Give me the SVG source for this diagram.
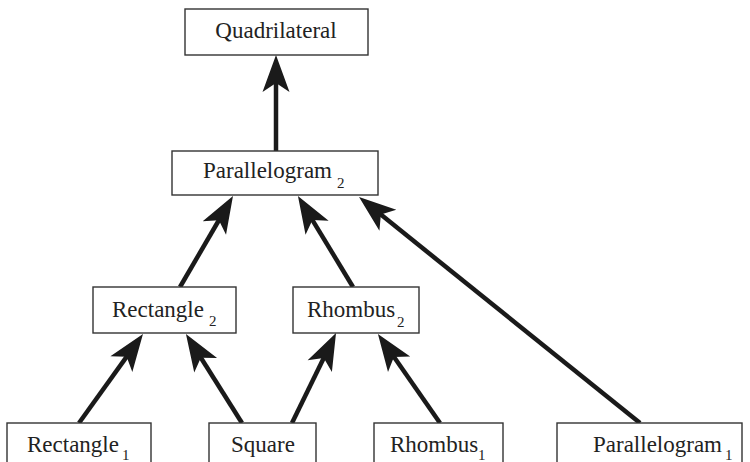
<svg xmlns="http://www.w3.org/2000/svg" width="750" height="462" viewBox="0 0 750 462">
<style>
.box{fill:#fff;stroke:#333;stroke-width:1.4}
.c{stroke:#1a1a1a;stroke-width:4.5;fill:none;marker-end:url(#ah)}
</style>
<defs>
<marker id="ah" markerUnits="userSpaceOnUse" markerWidth="44" markerHeight="40" viewBox="-14 -20 44 40" refX="0" refY="0" orient="auto" overflow="visible">
<path d="M26,0 L-11,-13.5 L-2,0 L-11,13.5 Z" fill="#1a1a1a"/>
</marker>
</defs>
<rect width="750" height="462" fill="#fff"/>
<g id="connectors">
<line class="c" x1="276" y1="151" x2="276" y2="81"/>
<line class="c" x1="180" y1="287" x2="219.9" y2="218.5"/>
<line class="c" x1="353" y1="287" x2="311.4" y2="218.3"/>
<line class="c" x1="640" y1="423" x2="379.3" y2="213.3"/>
<line class="c" x1="79" y1="423" x2="127.8" y2="355.1"/>
<line class="c" x1="242" y1="423" x2="199.8" y2="356"/>
<line class="c" x1="292" y1="423" x2="324.6" y2="356.3"/>
<line class="c" x1="440" y1="423" x2="392.8" y2="355.3"/>
</g>
<g id="quadrilateral">
<rect class="box" x="185" y="9" width="183" height="46"/>
<text x="276" y="38" text-anchor="middle" style="font-family:'Liberation Serif',serif;font-size:23px;fill:#222">Quadrilateral</text>
</g>
<g id="parallelogram2">
<rect class="box" x="172" y="151" width="206" height="44"/>
<text style="font-family:'Liberation Serif',serif;font-size:23px;fill:#222"><tspan x="203" y="178">Parallelogram</tspan><tspan x="337" y="188" style="font-size:15px">2</tspan></text>
</g>
<g id="rectangle2">
<rect class="box" x="93" y="287" width="143" height="46"/>
<text style="font-family:'Liberation Serif',serif;font-size:23px;fill:#222"><tspan x="112" y="317">Rectangle</tspan><tspan x="209" y="326" style="font-size:15px">2</tspan></text>
</g>
<g id="rhombus2">
<rect class="box" x="293" y="287" width="126" height="46"/>
<text style="font-family:'Liberation Serif',serif;font-size:23px;fill:#222"><tspan x="307" y="317">Rhombus</tspan><tspan x="397" y="327" style="font-size:15px">2</tspan></text>
</g>
<g id="rectangle1">
<rect class="box" x="7" y="423" width="144" height="50"/>
<text style="font-family:'Liberation Serif',serif;font-size:23px;fill:#222"><tspan x="27" y="452">Rectangle</tspan><tspan x="122" y="460" style="font-size:15px">1</tspan></text>
</g>
<g id="square">
<rect class="box" x="209" y="423" width="107" height="50"/>
<text x="231" y="452" style="font-family:'Liberation Serif',serif;font-size:23px;fill:#222">Square</text>
</g>
<g id="rhombus1">
<rect class="box" x="374" y="423" width="129" height="50"/>
<text style="font-family:'Liberation Serif',serif;font-size:23px;fill:#222"><tspan x="390" y="452">Rhombus</tspan><tspan x="478" y="460" style="font-size:15px">1</tspan></text>
</g>
<g id="parallelogram1">
<rect class="box" x="557" y="423" width="185" height="50"/>
<text style="font-family:'Liberation Serif',serif;font-size:23px;fill:#222"><tspan x="593" y="452">Parallelogram</tspan><tspan x="725" y="460" style="font-size:15px">1</tspan></text>
</g>
</svg>
